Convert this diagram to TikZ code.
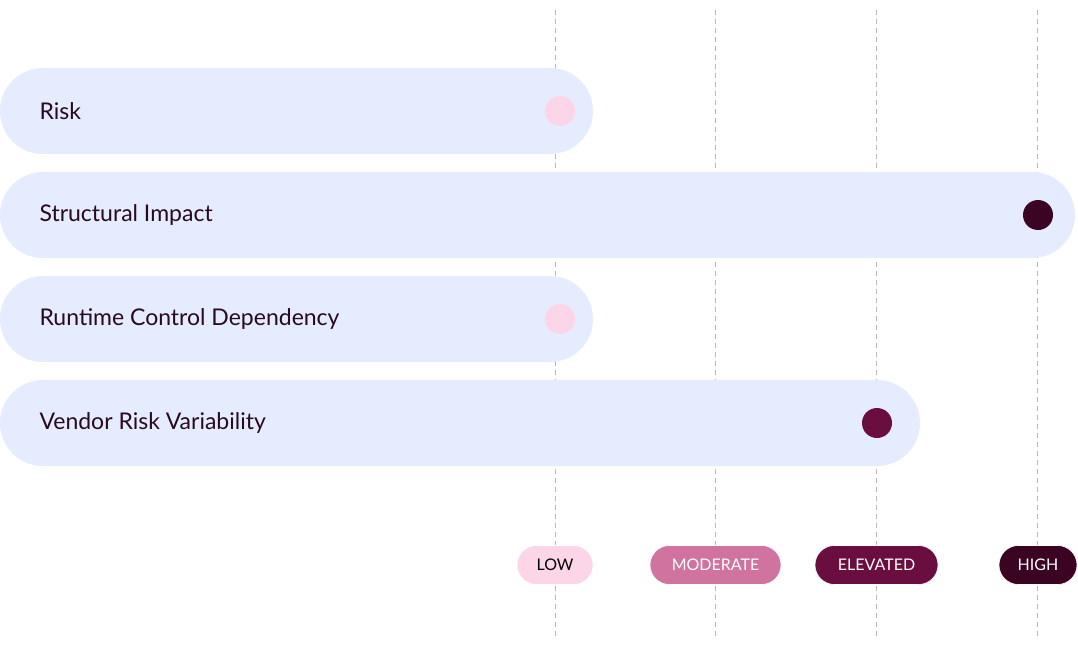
\documentclass[tikz,border=0pt]{standalone}
\usepackage{fontspec}
\setmainfont{Lato}
\definecolor{barblue}{HTML}{E4ECFD}
\definecolor{lowc}{HTML}{FDD5E8}
\definecolor{modc}{HTML}{D0739F}
\definecolor{elevc}{HTML}{6A0D3F}
\definecolor{highc}{HTML}{3A0422}
\definecolor{gridc}{HTML}{BDB5BA}
\definecolor{txtc}{HTML}{2A0A1E}
\begin{document}
\begin{tikzpicture}[x=1pt,y=-1pt]
\tikzset{
	bar/.style={rectangle, rounded corners=43pt, fill=barblue, minimum height=86pt, inner sep=0pt},
	lbl/.style={anchor=west, text=txtc, font=\fontsize{23}{26}\selectfont},
	dot/.style={circle, minimum size=30pt, inner sep=0pt},
	pill/.style={rectangle, rounded corners=19.5pt, minimum height=39pt, inner sep=0pt, font=\fontsize{16}{18}\selectfont, draw=white, line width=0.6pt},
	grid/.style={gridc, dashed, dash pattern=on 5pt off 4pt, line width=1pt}
}
\useasboundingbox (0,0) rectangle (1078,650);

% grid
\foreach \n/\x in {low/555, mod/715, elev/876, high/1037} {
	\coordinate (t_\n) at (\x,10);
	\coordinate (b_\n) at (\x,640);
	\draw[grid] (t_\n) -- (b_\n);
}

% bars
\node[bar, minimum width=593pt] (bar_1) at (296.5,111) {};
\node[bar, minimum width=1075pt] (bar_2) at (537.5,215) {};
\node[bar, minimum width=593pt] (bar_3) at (296.5,319) {};
\node[bar, minimum width=920pt] (bar_4) at (460,423) {};

\node[lbl] (l_1) at (36,111) {Risk};
\node[lbl] (l_2) at (36,215) {Structural Impact};
\node[lbl] (l_3) at (36,319) {Runtime Control Dependency};
\node[lbl] (l_4) at (36,423) {Vendor Risk Variability};

\node[dot, fill=lowc] (d_1) at (560,111) {};
\node[dot, fill=highc] (d_2) at (1038,215) {};
\node[dot, fill=lowc] (d_3) at (560,319) {};
\node[dot, fill=elevc] (d_4) at (877,423) {};

% legend
\node[pill, fill=lowc, minimum width=76pt, text=black] (p_low) at (555,565) {LOW};
\node[pill, fill=modc, minimum width=131pt, text=white] (p_mod) at (715.5,565) {MODERATE};
\node[pill, fill=elevc, minimum width=123pt, text=white] (p_elev) at (876.5,565) {ELEVATED};
\node[pill, fill=highc, minimum width=78pt, text=white] (p_high) at (1038,565) {HIGH};
\end{tikzpicture}
\end{document}
